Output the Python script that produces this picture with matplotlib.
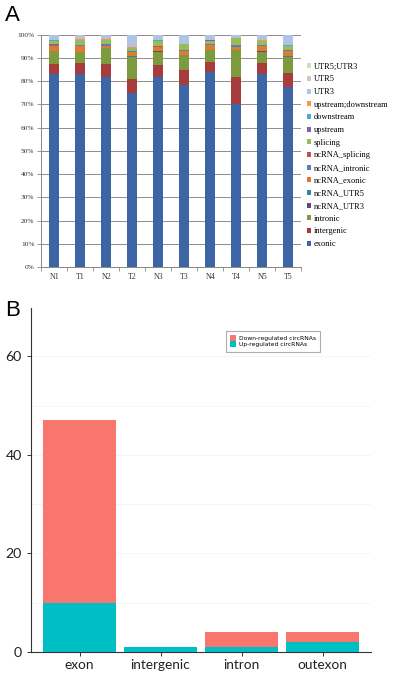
import matplotlib
matplotlib.use("Agg")
import matplotlib.pyplot as plt
import numpy as np
from matplotlib.patches import Patch

# ---------------- Panel A data ----------------
samples = ["N1", "T1", "N2", "T2", "N3", "T3", "N4", "T4", "N5", "T5"]
categories = ["exonic", "intergenic", "intronic", "ncRNA_UTR3", "ncRNA_UTR5",
              "ncRNA_exonic", "ncRNA_intronic", "ncRNA_splicing", "splicing",
              "upstream", "downstream", "upstream;downstream", "UTR3", "UTR5",
              "UTR5;UTR3"]
exonic         = [83.2, 83.0, 82.0, 74.8, 82.0, 78.4, 84.0, 70.3, 83.3, 77.8]
intergenic     = [4.4, 4.7, 5.6, 6.0, 5.0, 6.7, 4.3, 11.5, 4.6, 5.8]
intronic       = [5.4, 4.8, 6.8, 9.6, 5.8, 6.1, 5.2, 11.8, 5.1, 7.0]
ncRNA_UTR3     = [0.1, 0.1, 0.1, 0.1, 0.1, 0.1, 0.1, 0.1, 0.1, 0.1]
ncRNA_UTR5     = [0.1, 0.1, 0.1, 0.1, 0.1, 0.1, 0.1, 0.1, 0.1, 0.1]
ncRNA_exonic   = [2.2, 2.4, 0.8, 1.8, 1.6, 1.9, 2.2, 1.0, 2.0, 2.3]
ncRNA_intronic = [0.4, 0.4, 0.7, 0.5, 0.3, 0.3, 0.4, 1.0, 0.4, 0.4]
ncRNA_splicing = [0.1, 0.1, 0.1, 0.1, 0.1, 0.1, 0.1, 0.1, 0.1, 0.1]
splicing       = [1.5, 2.1, 1.6, 1.2, 2.4, 2.3, 1.3, 2.8, 1.8, 1.8]
upstream       = [0.1, 0.1, 0.1, 0.1, 0.1, 0.1, 0.1, 0.1, 0.1, 0.1]
downstream     = [0.1, 0.1, 0.1, 0.1, 0.1, 0.1, 0.1, 0.1, 0.1, 0.1]
up_down        = [0.1, 0.1, 0.1, 0.1, 0.1, 0.1, 0.1, 0.1, 0.1, 0.1]
UTR3           = [2.1, 1.8, 1.8, 5.2, 2.1, 3.6, 2.0, 1.0, 2.2, 4.2]
UTR5           = [0.1, 0.1, 0.1, 0.1, 0.1, 0.1, 0.1, 0.1, 0.1, 0.1]
UTR5_UTR3      = [0.1, 0.1, 0.1, 0.1, 0.1, 0.1, 0.1, 0.1, 0.1, 0.1]
series_A = [exonic, intergenic, intronic, ncRNA_UTR3, ncRNA_UTR5, ncRNA_exonic,
            ncRNA_intronic, ncRNA_splicing, splicing, upstream, downstream,
            up_down, UTR3, UTR5, UTR5_UTR3]
colors_A = ["#3C66A5", "#A63C3B", "#7D9A3E", "#604A7B", "#31859C", "#E07A30",
            "#4F81BD", "#C0504D", "#9BBB59", "#8064A2", "#4BACC6", "#F79646",
            "#AFC3E3", "#D9C3C3", "#D0DDB8"]
ytick_vals_A = list(range(0, 101, 10))
ytick_labels_A = [f"{v}%" for v in ytick_vals_A]

# ---------------- Panel B data ----------------
regions = ["exon", "intergenic", "intron", "outexon"]
up_reg = [10, 1, 1, 2]
down_reg = [37, 0, 3, 2]
yticks_B = [0, 20, 40, 60]

fig = plt.figure(figsize=(3.95, 6.75), dpi=100)

# ---------------- Panel A ----------------
axA = fig.add_axes([0.1046, 0.6044, 0.658, 0.344])
data = np.array(series_A, dtype=float)
data = data / data.sum(axis=0) * 100
x = np.arange(len(samples))
bottom = np.zeros(len(samples))
handles = []
for vals, col, name in zip(data, colors_A, categories):
    axA.bar(x, vals, bottom=bottom, width=0.385, color=col, linewidth=0, zorder=3)
    bottom += vals
    handles.append(Patch(facecolor=col, edgecolor="none", label=name))
axA.set_xlim(-0.5, len(samples) - 0.5)
axA.set_ylim(0, 100)
axA.set_yticks(ytick_vals_A)
axA.set_yticklabels(ytick_labels_A, fontsize=5.3, family="Liberation Serif", color="#333333")
axA.set_xticks(x)
axA.set_xticklabels(samples, fontsize=5.8, family="Liberation Serif", color="#333333")
axA.set_xticks(np.arange(-0.5, len(samples), 1.0), minor=True)
axA.tick_params(axis="x", which="major", length=0, pad=4)
axA.tick_params(axis="x", which="minor", length=3, color="#888888", width=0.6)
axA.tick_params(axis="y", length=3, color="#888888", width=0.6, pad=2)
axA.yaxis.grid(True, color="#8C8C8C", linewidth=0.7, zorder=0)
for s in ["top", "right"]:
    axA.spines[s].set_visible(False)
axA.spines["left"].set_color("#888888")
axA.spines["bottom"].set_color("#888888")
axA.spines["left"].set_linewidth(0.7)
axA.spines["bottom"].set_linewidth(0.7)
fig.legend(handles=handles[::-1], loc="upper left", bbox_to_anchor=(0.776, 0.907),
           frameon=False, prop={"family": "Liberation Serif", "size": 6.0},
           handlelength=0.55, handleheight=0.55, handletextpad=0.3,
           labelspacing=0.56, borderaxespad=0, borderpad=0)
fig.text(0.012, 0.992, "A", fontsize=16, va="top", ha="left", family="Liberation Sans")

# ---------------- Panel B ----------------
axB = fig.add_axes([0.0785, 0.0345, 0.861, 0.5088])
xb = np.arange(1, len(regions) + 1)
axB.bar(xb, up_reg, width=0.9, color="#00BFC4", linewidth=0, zorder=3,
        label="Up-regulated circRNAs")
axB.bar(xb, down_reg, bottom=up_reg, width=0.9, color="#F8766D", linewidth=0, zorder=3,
        label="Down-regulated circRNAs")
axB.set_xlim(0.4, 4.6)
axB.set_ylim(0, 69.8)
axB.set_yticks(yticks_B)
axB.set_yticks([10, 30, 50], minor=True)
axB.yaxis.grid(True, which="both", color="#F4F4F4", linewidth=0.6, zorder=0)
axB.set_xticks(xb)
axB.set_xticklabels(regions, fontsize=9.8, family="Lato", color="#222222")
for lab in axB.get_yticklabels():
    lab.set_fontsize(10.2)
    lab.set_family("Lato")
    lab.set_color("#222222")
axB.tick_params(axis="both", which="major", length=3, color="#333333", width=0.7)
axB.tick_params(axis="y", which="minor", length=0)
axB.tick_params(axis="x", pad=2)
for s in ["top", "right"]:
    axB.spines[s].set_visible(False)
axB.spines["left"].set_color("#333333")
axB.spines["bottom"].set_color("#333333")
h, l = axB.get_legend_handles_labels()
legB = axB.legend(h[::-1], l[::-1], loc="upper left", bbox_to_anchor=(0.572, 0.935),
                  prop={"family": "DejaVu Sans", "size": 4.3}, frameon=True,
                  fancybox=False, edgecolor="#999999", handlelength=1.0,
                  handleheight=1.1, handletextpad=0.4, labelspacing=0.0,
                  borderpad=0.8, borderaxespad=0)
legB.get_frame().set_linewidth(0.8)
fig.text(0.012, 0.555, "B", fontsize=16, va="top", ha="left", family="Liberation Sans")

fig.savefig("out.png", dpi=100)
